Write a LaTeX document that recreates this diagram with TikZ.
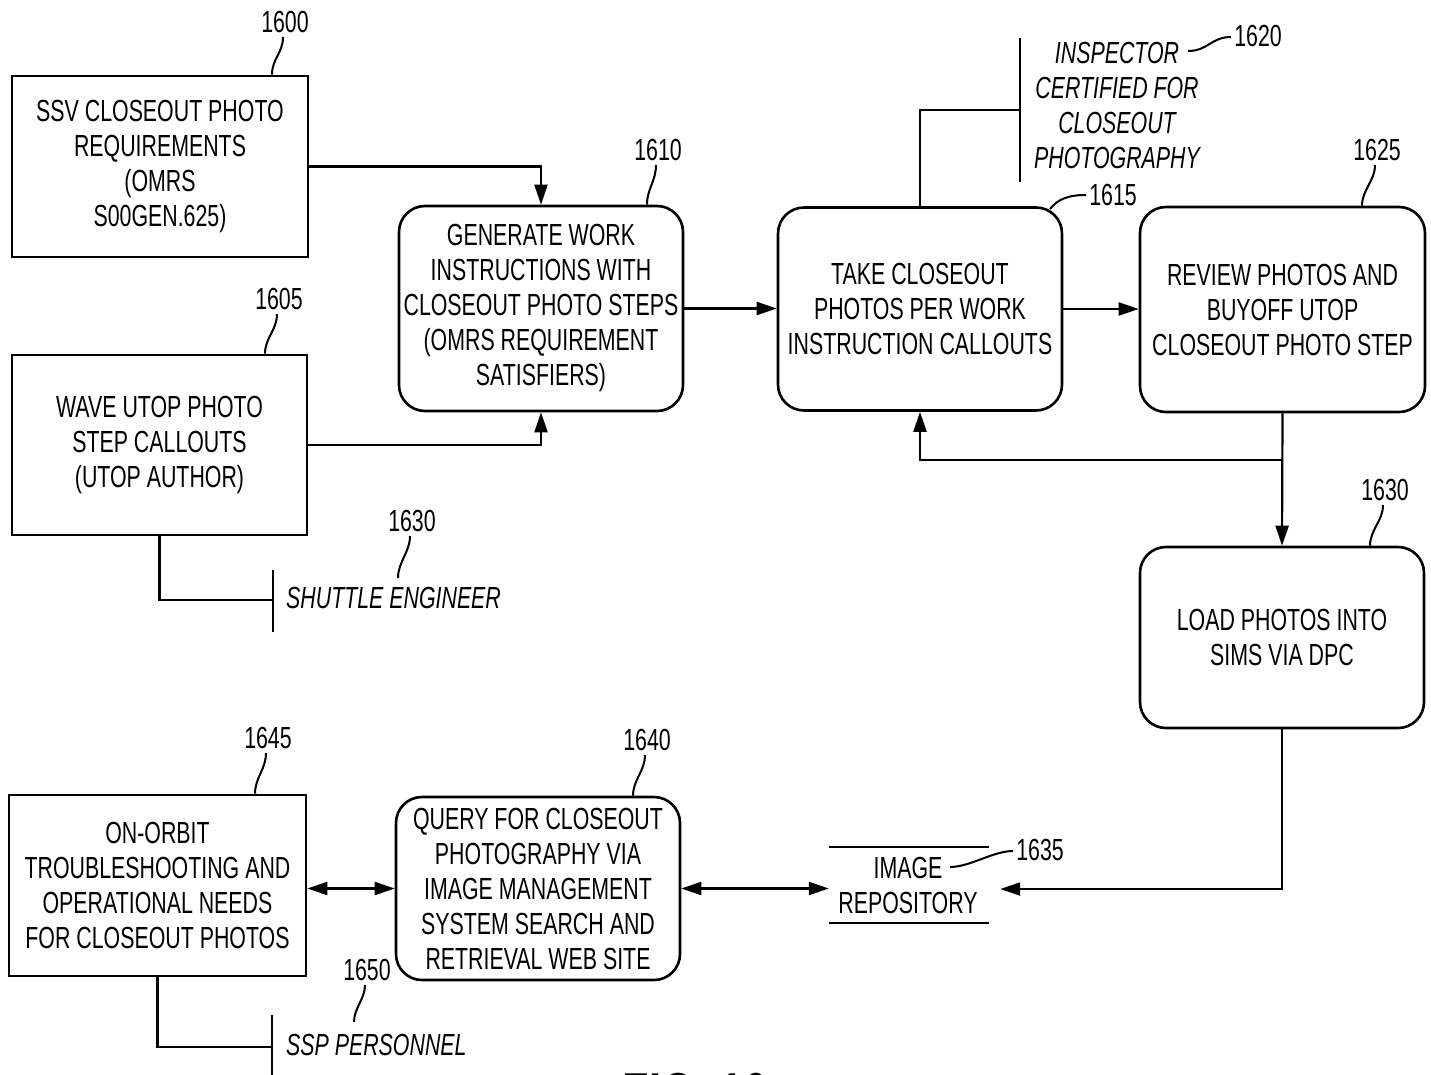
\documentclass[tikz,border=0pt]{standalone}
\usepackage{fontspec}
\setmainfont{Liberation Sans}[FakeStretch=0.70]
\usetikzlibrary{arrows.meta,calc}
\begin{document}
\begin{tikzpicture}[x=1pt,y=-1pt,
  txt/.style={font=\fontsize{30.5}{35}\selectfont},
  sqbox/.style={txt,draw,line width=2.6pt,align=center,inner sep=0pt},
  rbox/.style={sqbox,rounded corners=26pt},
  num/.style={txt,inner sep=0pt},
  actor/.style={txt,inner sep=0pt,font=\fontsize{30.5}{35}\selectfont\itshape},
  conn/.style={line width=2.2pt},
  arr/.style={conn,-{Triangle[length=20pt,width=13pt]}},
  darr/.style={conn,{Triangle[length=20pt,width=13pt]}-{Triangle[length=20pt,width=13pt]}},
  lead/.style={line width=2pt}
]
\useasboundingbox (0,0) rectangle (1431,1074);

% boxes
\node[sqbox,minimum width=296pt,minimum height=181pt] (b1600) at (160,166.5)
  {SSV CLOSEOUT PHOTO\\REQUIREMENTS\\(OMRS\\S00GEN.625)};
\node[sqbox,minimum width=295pt,minimum height=180pt] (b1605) at (159.5,445)
  {WAVE UTOP PHOTO\\STEP CALLOUTS\\(UTOP AUTHOR)};
\node[rbox,minimum width=284pt,minimum height=205pt] (b1610) at (541,308.5)
  {GENERATE WORK\\INSTRUCTIONS WITH\\CLOSEOUT PHOTO STEPS\\(OMRS REQUIREMENT\\SATISFIERS)};
\node[rbox,minimum width=284pt,minimum height=203pt] (b1615) at (920,309)
  {TAKE CLOSEOUT\\PHOTOS PER WORK\\INSTRUCTION CALLOUTS};
\node[rbox,minimum width=285pt,minimum height=205pt] (b1625) at (1282.5,309.5)
  {REVIEW PHOTOS AND\\BUYOFF UTOP\\CLOSEOUT PHOTO STEP};
\node[rbox,minimum width=284pt,minimum height=181pt] (b1630) at (1282,637.5)
  {LOAD PHOTOS INTO\\SIMS VIA DPC};
\node[rbox,minimum width=284pt,minimum height=183pt] (b1640) at (538,888.5)
  {QUERY FOR CLOSEOUT\\PHOTOGRAPHY VIA\\IMAGE MANAGEMENT\\SYSTEM SEARCH AND\\RETRIEVAL WEB SITE};
\node[sqbox,minimum width=297pt,minimum height=181pt] (b1645) at (157.5,885.5)
  {ON-ORBIT\\TROUBLESHOOTING AND\\OPERATIONAL NEEDS\\FOR CLOSEOUT PHOTOS};

% image repository (data store)
\node[txt,align=center,inner sep=0pt,minimum width=171pt,minimum height=75pt] (rep) at (914.5,885)
  {\hspace*{-13pt}IMAGE\\\hspace*{-13pt}REPOSITORY};
\draw[line width=2.2pt] (rep.north west) -- ($(rep.north east)+(-11,0)$);
\draw[line width=2.2pt] (rep.south west) -- ($(rep.south east)+(-11,0)$);

% actors
\coordinate (a1620t) at (1020,38);
\coordinate (a1620b) at (1020,182);
\draw[conn] (a1620t) -- (a1620b);
\draw[conn] (b1615.north) |- ($(a1620t)!0.5!(a1620b)$);
\node[actor,align=center] (t1620) at (1117,105)
  {INSPECTOR\\CERTIFIED FOR\\CLOSEOUT\\PHOTOGRAPHY};

\coordinate (a1630t) at (273,570);
\coordinate (a1630b) at (273,632);
\draw[conn] (a1630t) -- (a1630b);
\draw[conn] (b1605.south) |- (273,600);
\node[actor,anchor=west] (t1630) at (286,598) {SHUTTLE ENGINEER};

\coordinate (a1650t) at (272,1015);
\coordinate (a1650b) at (272,1075);
\draw[conn] (a1650t) -- (a1650b);
\draw[conn] (b1645.south) |- (272,1047);
\node[actor,anchor=west] (t1650) at (286,1045) {SSP PERSONNEL};

% connectors
\draw[arr] (b1600.east) -| (b1610.north);
\draw[arr] (b1605.east) -| (b1610.south);
\draw[arr] (b1610.east) -- (b1610.east -| b1615.west);
\draw[arr] (b1615.east) -- (b1615.east -| b1625.west);
\draw[arr] (b1625.south) -- (b1630.north);
\coordinate (j) at ($(b1625.south)+(0,47)$);
\draw[arr] (j) -| (b1615.south);
\draw[arr] (b1630.south) |- ($(rep.east)+(0,4)$);
\draw[darr] (b1640.east) -- (b1640.east -| rep.west);
\draw[darr] (b1640.west -| b1645.east) -- (b1640.west);

% reference numerals
\node[num] (l1600) at (285,22) {1600};
\node[num] (l1605) at (279,299) {1605};
\node[num] (l1610) at (658,150) {1610};
\node[num] (l1615) at (1113,195) {1615};
\node[num] (l1620) at (1258,36) {1620};
\node[num] (l1625) at (1377,150) {1625};
\node[num] (l1630a) at (1385,490) {1630};
\node[num] (l1630b) at (412,521) {1630};
\node[num] (l1635) at (1040,850) {1635};
\node[num] (l1640) at (647,740) {1640};
\node[num] (l1645) at (268,738) {1645};
\node[num] (l1650) at (367,970) {1650};

% leaders
\draw[lead] ($(l1600.south)+(-2,4)$) .. controls +(0,16) and +(0,-16) .. ($(b1600.north)+(112,0)$);
\draw[lead] ($(l1605.south)+(-2,4)$) .. controls +(0,16) and +(0,-16) .. ($(b1605.north)+(105.5,0)$);
\draw[lead] ($(l1610.south)+(-2,4)$) .. controls +(0,16) and +(0,-16) .. ($(b1610.north)+(106,0)$);
\draw[lead] ($(l1625.south)+(-2,4)$) .. controls +(0,16) and +(0,-16) .. ($(b1625.north)+(79.5,0)$);
\draw[lead] ($(l1630a.south)+(-2,4)$) .. controls +(0,16) and +(0,-16) .. ($(b1630.north)+(88,0)$);
\draw[lead] ($(l1640.south)+(-2,4)$) .. controls +(0,16) and +(0,-16) .. ($(b1640.north)+(95,0)$);
\draw[lead] ($(l1645.south)+(-2,4)$) .. controls +(0,16) and +(0,-16) .. ($(b1645.north)+(97.5,0)$);
\draw[lead] ($(l1630b.south)+(-2,4)$) .. controls +(0,16) and +(0,-16) .. (398,578);
\draw[lead] ($(l1650.south)+(-2,4)$) .. controls +(0,14) and +(0,-14) .. (354,1022);
\draw[lead] ($(l1615.west)+(-3,0)$) .. controls +(-18,0) and +(8,-10) .. (1050,209);
\draw[lead] ($(l1620.west)+(-3,1)$) .. controls +(-20,0) and +(20,0) .. (1188,51);
\draw[lead] ($(l1635.west)+(-3,1)$) .. controls +(-20,0) and +(20,0) .. (950,867);

% partially visible figure caption at bottom edge
\node[txt,inner sep=0pt,anchor=north,font=\fontsize{62}{62}\selectfont\bfseries] (fig) at (695,1073) {FIG. 16};
\end{tikzpicture}
\end{document}
